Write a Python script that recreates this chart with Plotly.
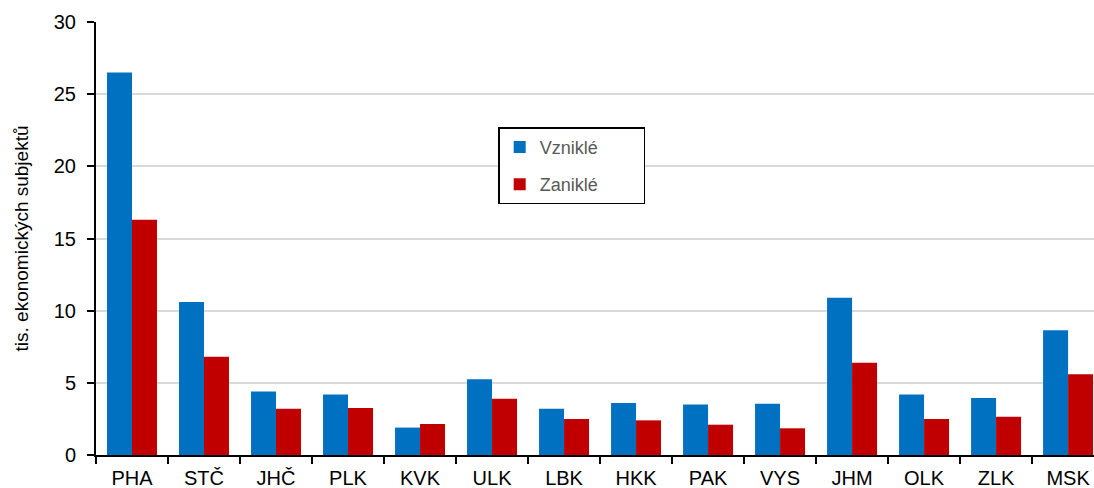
import plotly.graph_objects as go

categories = ["PHA", "STČ", "JHČ", "PLK", "KVK", "ULK", "LBK", "HKK", "PAK", "VYS", "JHM", "OLK", "ZLK", "MSK"]
vznikle = [26.5, 10.6, 4.4, 4.2, 1.9, 5.25, 3.2, 3.6, 3.5, 3.55, 10.9, 4.2, 3.95, 8.65]
zanikle = [16.3, 6.8, 3.2, 3.25, 2.15, 3.9, 2.5, 2.4, 2.1, 1.85, 6.4, 2.5, 2.65, 5.6]
yticks = [0, 5, 10, 15, 20, 25, 30]

pad = "\u00a0" * 8

fig = go.Figure()
fig.add_trace(go.Bar(name="Vzniklé" + pad, x=categories, y=vznikle, legendgroup="a",
                     marker=dict(color="#0070C0", line=dict(width=0))))
fig.add_trace(go.Bar(name="Zaniklé" + pad, x=categories, y=zanikle, legendgroup="b",
                     marker=dict(color="#C00000", line=dict(width=0))))

fig.update_layout(
    width=1094, height=488,
    margin=dict(l=96, r=0, t=22, b=33),
    paper_bgcolor="white", plot_bgcolor="white",
    barmode="group", bargap=0.306, bargroupgap=0,
    font=dict(family="Liberation Sans, Arial, sans-serif", color="black", size=20),
    showlegend=True,
    legend=dict(
        x=0.403, y=0.757, xanchor="left", yanchor="top",
        bgcolor="white", bordercolor="black", borderwidth=1.5,
        font=dict(size=18, color="#595959"),
        itemwidth=30, tracegroupgap=11,
        traceorder="grouped",
    ),
    xaxis=dict(
        range=[-0.5, 13.36],
        showline=True, linecolor="black", linewidth=2,
        ticks="outside", ticklen=7, tickcolor="black", tickwidth=1.5,
        tickson="boundaries",
        showgrid=False,
        tickfont=dict(size=20),
        ticklabelstandoff=4,
    ),
    yaxis=dict(
        range=[0, 30], tickvals=yticks,
        showline=True, linecolor="black", linewidth=2,
        ticks="outside", ticklen=7, tickcolor="black", tickwidth=1.5,
        showgrid=True, gridcolor="#d9d9d9", gridwidth=1.5,
        zeroline=False,
        tickfont=dict(size=20),
        ticklabelstandoff=7,
        title=dict(text="tis. ekonomických subjektů", font=dict(size=19), standoff=20),
    ),
)

fig.write_html("out.html", config={"displayModeBar": False},
               post_script="document.body.style.margin='0';document.body.style.overflow='hidden';")
